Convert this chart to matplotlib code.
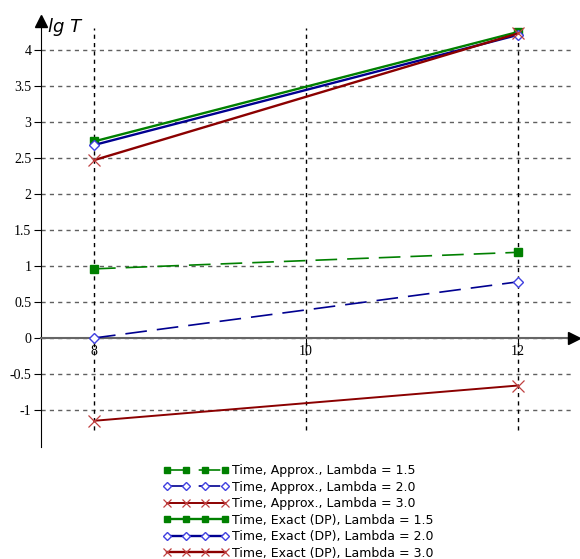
import matplotlib.pyplot as plt

# problem size (x) and lg of running time (y)
sizes = [8, 12]
approx_15 = [0.96, 1.19]
approx_20 = [0.0, 0.78]
approx_30 = [-1.15, -0.66]
exact_15 = [2.73, 4.25]
exact_20 = [2.68, 4.21]
exact_30 = [2.47, 4.23]

x_ticks = [8, 10, 12]
y_ticks = [-1, -0.5, 0, 0.5, 1, 1.5, 2, 2.5, 3, 3.5, 4]
y_labels = ['-1', '-0.5', '0', '0.5', '1', '1.5', '2', '2.5', '3', '3.5', '4']

fig = plt.figure(figsize=(5.8, 5.59), dpi=100)
ax = fig.add_axes([41 / 580, 112 / 559, 537 / 580, 432 / 559])
ax.set_xlim(7.5, 12.566)
ax.set_ylim(-1.514, 4.486)

# dashed grid, drawn by hand so it stops short of the arrows
ax.hlines(y_ticks, 7.5, 12.5, colors='#606060', linestyles=(0, (3, 3)), linewidth=1, zorder=1)
ax.vlines(x_ticks, -1.28, 4.3, colors='black', linestyles=(0, (3, 3)), linewidth=1, zorder=1)

green, blue, red = '#008000', '#000090', '#8b0000'
dash = (0, (13, 6))

ax.plot(sizes, approx_15, color=green, lw=1.2, ls=dash, marker='s', ms=6,
        mfc=green, mec=green, label='Time, Approx., Lambda = 1.5', zorder=3)
ax.plot(sizes, approx_20, color=blue, lw=1.2, ls=dash, marker='D', ms=5.5,
        mfc='white', mec='#4040e0', mew=1, label='Time, Approx., Lambda = 2.0', zorder=3)
ax.plot(sizes, approx_30, color=red, lw=1.4, marker='x', ms=8,
        mec='#c04040', mew=0.9, label='Time, Approx., Lambda = 3.0', zorder=3)
ax.plot(sizes, exact_15, color=green, lw=1.7, marker='s', ms=6,
        mfc=green, mec=green, label='Time, Exact (DP), Lambda = 1.5', zorder=3)
ax.plot(sizes, exact_20, color=blue, lw=1.7, marker='D', ms=5.5,
        mfc='white', mec='#4040e0', mew=1, label='Time, Exact (DP), Lambda = 2.0', zorder=3)
ax.plot(sizes, exact_30, color=red, lw=1.7, marker='x', ms=8,
        mec='#c04040', mew=0.9, label='Time, Exact (DP), Lambda = 3.0', zorder=4)

# axes: left spine with arrow, x axis through zero with arrow
for s in ['top', 'right']:
    ax.spines[s].set_visible(False)
ax.spines['left'].set_color('black')
ax.spines['left'].set_bounds(-1.514, 4.4)
ax.spines['bottom'].set_position(('data', 0))
ax.spines['bottom'].set_color('#666666')
ax.spines['bottom'].set_linewidth(1.5)
ax.plot(7.5, 4.4, marker='^', color='black', ms=8, clip_on=False, zorder=5)
ax.plot(12.53, 0, marker='>', color='black', ms=8, clip_on=False, zorder=5)

ax.set_xticks(x_ticks)
ax.set_xticklabels([str(v) for v in x_ticks], fontfamily='Liberation Serif', fontsize=10)
ax.set_yticks(y_ticks)
ax.set_yticklabels(y_labels, fontfamily='Liberation Serif', fontsize=10)
ax.tick_params(axis='x', length=4, pad=1, color='black')
ax.tick_params(axis='y', length=5, pad=2, color='black')

fig.text(48 / 580, 1 - 32 / 559, 'lg T', fontsize=13, style='italic', ha='left', va='baseline')

handles, labels = ax.get_legend_handles_labels()
fig.legend(handles, labels, loc='upper left', bbox_to_anchor=(152 / 580, 1 - 453 / 559),
           frameon=False, numpoints=4, handlelength=5.2, handletextpad=0.3,
           markerscale=0.8, labelspacing=0.28, prop={'family': 'DejaVu Sans', 'size': 9})

fig.savefig('out.png', dpi=100)
